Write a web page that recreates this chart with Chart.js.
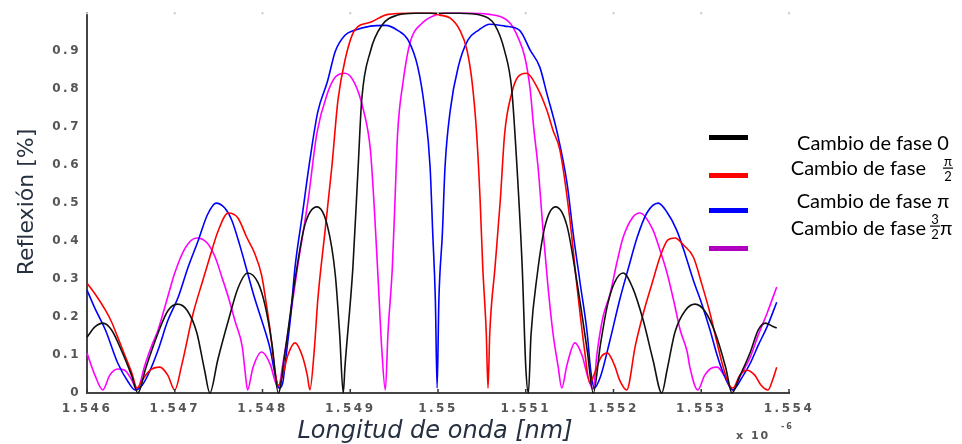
<!DOCTYPE html>
<html lang="es">
<head>
<meta charset="UTF-8">
<title>Reflexión vs longitud de onda</title>
<script src="https://cdn.jsdelivr.net/npm/chart.js"></script>
<style>
  html, body { margin: 0; padding: 0; background: #fff; }
  #wrap { position: relative; width: 962px; height: 444px; }
</style>
</head>
<body>
<div id="wrap"><canvas id="grafico"></canvas></div>
<script>
// Cambio de fase 0
const wlFase0 = [1.54600,1.54609,1.54618,1.54628,1.54640,1.54651,1.54658,1.54667,1.54681,1.54692,1.54703,1.54714,1.54725,1.54734,1.54740,1.54749,1.54761,1.54772,1.54783,1.54795,1.54803,1.54811,1.54818,1.54826,1.54837,1.54848,1.54862,1.54874,1.54883,1.54888,1.54892,1.54894,1.54903,1.54909,1.54913,1.54923,1.54936,1.54954,1.54974,1.55000,1.55025,1.55048,1.55065,1.55076,1.55084,1.55090,1.55096,1.55100,1.55103,1.55106,1.55113,1.55122,1.55134,1.55147,1.55158,1.55170,1.55177,1.55185,1.55193,1.55201,1.55211,1.55222,1.55234,1.55245,1.55255,1.55261,1.55270,1.55282,1.55293,1.55304,1.55316,1.55328,1.55335,1.55344,1.55356,1.55365,1.55373,1.55381,1.55386];
const rFase0 = [0.147,0.174,0.184,0.166,0.108,0.045,0.0,0.066,0.158,0.216,0.234,0.218,0.16,0.06,0.0,0.087,0.19,0.276,0.316,0.29,0.23,0.126,0.0,0.113,0.297,0.44,0.49,0.44,0.31,0.153,0.0,0.07,0.33,0.595,0.77,0.90,0.968,0.995,1.0,1.0,1.0,0.995,0.968,0.90,0.80,0.595,0.33,0.07,0.0,0.153,0.31,0.44,0.49,0.44,0.297,0.113,0.0,0.126,0.23,0.29,0.316,0.276,0.19,0.087,0.0,0.06,0.16,0.218,0.234,0.216,0.158,0.066,0.0,0.045,0.108,0.166,0.184,0.176,0.171];

// Cambio de fase pi/2
const wlFaseMedioPi = [1.54600,1.54610,1.54621,1.54628,1.54635,1.54643,1.54651,1.54657,1.54663,1.54672,1.54683,1.54692,1.54700,1.54708,1.54721,1.54731,1.54740,1.54749,1.54761,1.54772,1.54782,1.54791,1.54799,1.54804,1.54809,1.54813,1.54818,1.54823,1.54829,1.54837,1.54845,1.54851,1.54854,1.54859,1.54863,1.54871,1.54879,1.54886,1.54894,1.54905,1.54923,1.54943,1.54968,1.54991,1.55002,1.55014,1.55025,1.55033,1.55039,1.55044,1.55048,1.55051,1.55055,1.55057,1.55059,1.55065,1.55071,1.55076,1.55084,1.55091,1.55101,1.55113,1.55124,1.55131,1.55139,1.55150,1.55158,1.55167,1.55173,1.55179,1.55186,1.55193,1.55201,1.55207,1.55215,1.55225,1.55234,1.55244,1.55253,1.55262,1.55270,1.55280,1.55291,1.55301,1.55310,1.55318,1.55325,1.55332,1.55336,1.55344,1.55352,1.55361,1.55368,1.55376,1.55382,1.55386];
const rFaseMedioPi = [0.289,0.258,0.218,0.187,0.147,0.1,0.053,0.013,0.034,0.06,0.068,0.047,0.008,0.074,0.21,0.289,0.358,0.424,0.474,0.461,0.41,0.368,0.31,0.24,0.16,0.08,0.02,0.047,0.1,0.132,0.1,0.047,0.008,0.113,0.245,0.421,0.595,0.771,0.876,0.955,0.976,0.997,1.0,1.0,0.995,0.987,0.955,0.903,0.816,0.684,0.508,0.332,0.158,0.013,0.158,0.332,0.508,0.684,0.789,0.832,0.842,0.805,0.745,0.692,0.639,0.463,0.289,0.113,0.026,0.055,0.095,0.105,0.074,0.034,0.008,0.126,0.21,0.289,0.358,0.403,0.408,0.389,0.358,0.284,0.21,0.132,0.068,0.021,0.013,0.047,0.06,0.047,0.021,0.008,0.039,0.068];

// Cambio de fase pi
const wlFasePi = [1.54600,1.54610,1.54621,1.54635,1.54647,1.54655,1.54663,1.54672,1.54681,1.54692,1.54704,1.54715,1.54727,1.54737,1.54747,1.54757,1.54765,1.54774,1.54783,1.54791,1.54799,1.54809,1.54814,1.54819,1.54823,1.54827,1.54832,1.54837,1.54845,1.54854,1.54863,1.54874,1.54883,1.54894,1.54905,1.54923,1.54940,1.54954,1.54966,1.54977,1.54985,1.54991,1.54994,1.54997,1.54999,1.55001,1.55005,1.55008,1.55014,1.55023,1.55034,1.55046,1.55059,1.55076,1.55093,1.55105,1.55116,1.55124,1.55136,1.55147,1.55154,1.55162,1.55170,1.55174,1.55178,1.55185,1.55196,1.55207,1.55217,1.55227,1.55238,1.55251,1.55261,1.55272,1.55282,1.55291,1.55301,1.55310,1.55318,1.55325,1.55336,1.55346,1.55356,1.55365,1.55375,1.55386];
const rFasePi = [0.271,0.218,0.166,0.079,0.029,0.008,0.021,0.06,0.113,0.19,0.253,0.33,0.403,0.468,0.5,0.487,0.455,0.39,0.316,0.25,0.192,0.113,0.053,0.013,0.026,0.1,0.2,0.33,0.463,0.613,0.74,0.82,0.90,0.942,0.955,0.966,0.968,0.955,0.929,0.858,0.745,0.595,0.421,0.245,0.013,0.245,0.421,0.595,0.745,0.858,0.929,0.955,0.971,0.966,0.955,0.903,0.858,0.789,0.684,0.553,0.421,0.289,0.158,0.06,0.013,0.042,0.139,0.245,0.329,0.41,0.474,0.5,0.476,0.429,0.363,0.297,0.232,0.166,0.1,0.053,0.008,0.039,0.079,0.126,0.174,0.239];

// Cambio de fase 3pi/2
const wlFaseTresMedios = [1.54600,1.54609,1.54618,1.54626,1.54635,1.54643,1.54651,1.54657,1.54666,1.54674,1.54681,1.54691,1.54700,1.54712,1.54725,1.54737,1.54746,1.54754,1.54761,1.54769,1.54777,1.54780,1.54783,1.54789,1.54799,1.54809,1.54814,1.54818,1.54823,1.54829,1.54840,1.54852,1.54862,1.54874,1.54883,1.54894,1.54905,1.54915,1.54923,1.54928,1.54932,1.54936,1.54940,1.54943,1.54948,1.54951,1.54954,1.54960,1.54968,1.54982,1.54997,1.55008,1.55036,1.55059,1.55082,1.55091,1.55099,1.55105,1.55109,1.55114,1.55120,1.55125,1.55131,1.55137,1.55141,1.55147,1.55156,1.55164,1.55171,1.55177,1.55181,1.55188,1.55196,1.55204,1.55211,1.55222,1.55230,1.55245,1.55253,1.55261,1.55269,1.55276,1.55284,1.55287,1.55296,1.55304,1.55312,1.55318,1.55326,1.55336,1.55345,1.55356,1.55365,1.55375,1.55386];
const rFaseTresMedios = [0.105,0.047,0.008,0.047,0.063,0.06,0.034,0.008,0.074,0.126,0.166,0.245,0.316,0.382,0.408,0.395,0.358,0.303,0.253,0.187,0.121,0.06,0.008,0.066,0.108,0.074,0.034,0.013,0.074,0.158,0.332,0.508,0.684,0.789,0.832,0.842,0.816,0.745,0.639,0.463,0.289,0.113,0.008,0.158,0.332,0.508,0.684,0.816,0.921,0.974,0.995,1.0,1.0,0.997,0.974,0.937,0.884,0.80,0.70,0.595,0.421,0.289,0.158,0.068,0.013,0.074,0.132,0.1,0.04,0.01,0.1,0.2,0.26,0.345,0.41,0.463,0.474,0.429,0.376,0.316,0.239,0.166,0.108,0.068,0.008,0.047,0.066,0.068,0.047,0.008,0.047,0.095,0.153,0.21,0.279];

// ejes
const xTicks = [1.546, 1.547, 1.548, 1.549, 1.550, 1.551, 1.552, 1.553, 1.554];
const yTicks = [0, 0.1, 0.2, 0.3, 0.4, 0.5, 0.6, 0.7, 0.8, 0.9];

function puntos(xs, ys) {
    return xs.map((x, i) => ({ x: x, y: ys[i] }));
}

const leyenda = [
    { color: '#000000', y: 138, texto: 'Cambio de fase 0', base: 150 },
    { color: '#ff0000', y: 176, texto: 'Cambio de fase', base: 175, num: 'π', den: '2', barra: 168, xf: 948 },
    { color: '#0000ff', y: 211, texto: 'Cambio de fase π', base: 208 },
    { color: '#b000c0', y: 249, texto: 'Cambio de fase', base: 235, num: '3', den: '2', barra: 226, xf: 935, post: 'π' }
];

const extras = {
    id: 'extras',
    beforeDraw(chart) {
        chart.ctx.letterSpacing = '2.5px';
    },
    afterDraw(chart) {
        const ctx = chart.ctx;
        const area = chart.chartArea;
        const xs = chart.scales.x;
        ctx.save();
        ctx.letterSpacing = '0px';

        // marcas de los ticks hacia dentro y puntitos arriba
        ctx.strokeStyle = '#333';
        ctx.lineWidth = 1.5;
        xTicks.forEach(v => {
            const px = xs.getPixelForValue(v);
            ctx.beginPath();
            ctx.moveTo(px, area.bottom);
            ctx.lineTo(px, area.bottom - 4);
            ctx.stroke();
            ctx.fillStyle = '#c8c8c8';
            ctx.fillRect(px - 1, area.top - 1, 2, 2);
        });

        // titulos
        ctx.fillStyle = '#263040';
        ctx.font = '22px "DejaVu Sans"';
        ctx.textAlign = 'center';
        ctx.textBaseline = 'middle';
        ctx.save();
        ctx.translate(27, 202);
        ctx.rotate(-Math.PI / 2);
        ctx.fillText('Reflexión [%]', 0, 0);
        ctx.restore();

        ctx.font = 'italic 24px "DejaVu Sans"';
        ctx.textBaseline = 'alphabetic';
        ctx.fillText('Longitud de onda [nm]', 435, 438);

        // exponente
        ctx.fillStyle = '#555';
        ctx.textAlign = 'left';
        ctx.font = 'bold 11px "DejaVu Sans"';
        ctx.letterSpacing = '2px';
        ctx.fillText('x 10', 736, 439);
        ctx.font = 'bold 8px "DejaVu Sans"';
        ctx.fillText('-6', 781, 429);
        ctx.letterSpacing = '0px';

        // leyenda
        leyenda.forEach(e => {
            ctx.fillStyle = e.color;
            ctx.fillRect(709, e.y - 3, 39, 5);
            ctx.fillStyle = '#000';
            ctx.font = '20px Lato';
            ctx.textBaseline = 'alphabetic';
            if (e.num) {
                ctx.textAlign = 'right';
                ctx.fillText(e.texto, 926, e.base);
                ctx.font = '13px Lato';
                ctx.textAlign = 'center';
                ctx.fillText(e.num, e.xf, e.barra - 2);
                ctx.textBaseline = 'top';
                ctx.fillText(e.den, e.xf, e.barra + 2);
                ctx.fillRect(e.xf - 5, e.barra - 0.5, 10, 1.2);
                if (e.post) {
                    ctx.font = '20px Lato';
                    ctx.textAlign = 'left';
                    ctx.textBaseline = 'alphabetic';
                    ctx.fillText(e.post, e.xf + 5, e.base);
                }
            } else {
                ctx.textAlign = 'center';
                ctx.fillText(e.texto, 873, e.base);
            }
        });
        ctx.restore();
    }
};

const estiloLinea = { borderWidth: 1.6, pointRadius: 0, cubicInterpolationMode: 'monotone', fill: false, clip: 4 };

new Chart(document.getElementById('grafico'), {
    type: 'line',
    data: {
        datasets: [
            Object.assign({ label: 'Cambio de fase 0', data: puntos(wlFase0, rFase0), borderColor: '#111111' }, estiloLinea),
            Object.assign({ label: 'Cambio de fase π/2', data: puntos(wlFaseMedioPi, rFaseMedioPi), borderColor: '#ff0000' }, estiloLinea),
            Object.assign({ label: 'Cambio de fase π', data: puntos(wlFasePi, rFasePi), borderColor: '#0000ff' }, estiloLinea),
            Object.assign({ label: 'Cambio de fase 3π/2', data: puntos(wlFaseTresMedios, rFaseTresMedios), borderColor: '#ff00ff' }, estiloLinea)
        ]
    },
    options: {
        responsive: true,
        maintainAspectRatio: false,
        animation: false,
        layout: { padding: { top: 13, right: 173, left: 0, bottom: 0 } },
        plugins: {
            legend: { display: false },
            tooltip: { enabled: false }
        },
        scales: {
            x: {
                type: 'linear',
                min: 1.546,
                max: 1.554,
                afterBuildTicks: s => { s.ticks = xTicks.map(v => ({ value: v })); },
                afterFit: s => { s.height = 51; },
                grid: { display: false, drawTicks: false },
                border: { display: true, color: '#444', width: 2 },
                ticks: {
                    padding: 9,
                    maxRotation: 0,
                    autoSkip: false,
                    color: '#555',
                    font: { family: 'DejaVu Sans', size: 12, weight: 'bold' },
                    callback: v => String(parseFloat(v.toFixed(3)))
                }
            },
            y: {
                min: 0,
                max: 1,
                afterBuildTicks: s => { s.ticks = yTicks.map(v => ({ value: v })); },
                afterFit: s => { s.width = 87; },
                grid: { display: false, drawTicks: false },
                border: { display: true, color: '#444', width: 2 },
                ticks: {
                    padding: 6,
                    autoSkip: false,
                    color: '#555',
                    font: { family: 'DejaVu Sans', size: 12, weight: 'bold' },
                    callback: v => String(parseFloat(v.toFixed(1)))
                }
            }
        }
    },
    plugins: [extras]
});
</script>
</body>
</html>
